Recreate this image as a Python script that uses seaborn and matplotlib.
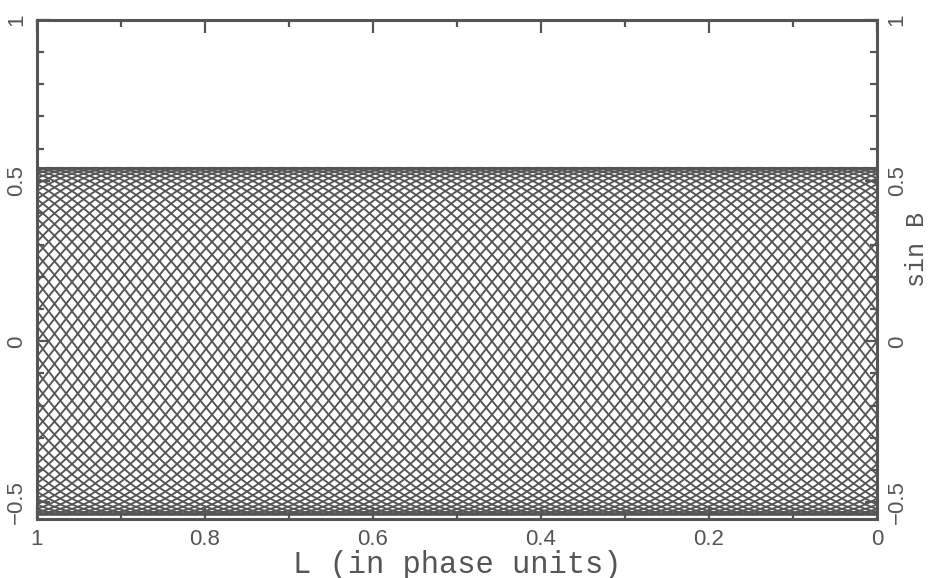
import numpy as np
import pandas as pd
import matplotlib
matplotlib.use("Agg")
import matplotlib.pyplot as plt
import seaborn as sns
from matplotlib.ticker import MultipleLocator

# ---- chart values ----
amplitude = 0.54          # max |sin B| reached by the tracks
n_tracks = 72             # number of phase-shifted tracks in the mesh
cycles_per_phase = 1.0    # oscillations of sin B per unit of L
x_ticks = [1, 0.8, 0.6, 0.4, 0.2, 0]
x_tick_labels = ["1", "0.8", "0.6", "0.4", "0.2", "0"]
y_ticks = [-0.5, 0, 0.5, 1]
y_tick_labels = ["\u22120.5", "0", "0.5", "1"]
x_label = "L (in phase units)"
y_label = "sin B"

ink = "#555555"

L = np.linspace(0, 1, 500)
phases = np.arange(n_tracks) / n_tracks
frames = []
for k, ph in enumerate(phases):
    frames.append(pd.DataFrame({
        "L": L,
        "sinB": amplitude * np.sin(2 * np.pi * (cycles_per_phase * L - ph)),
        "track": k,
    }))
df = pd.concat(frames, ignore_index=True)

sns.set_theme(style="white")
plt.rcParams["font.family"] = ["Liberation Sans", "DejaVu Sans"]

fig = plt.figure(figsize=(9.29, 5.78), dpi=100)
ax = fig.add_axes([37 / 929, 1 - 519 / 578, 840 / 929, 499 / 578])

sns.lineplot(data=df, x="L", y="sinB", units="track", estimator=None,
             color=ink, linewidth=1.35, legend=False, ax=ax, sort=False)

ax.set_xlim(1, 0)
ax.set_ylim(-0.553, 1.0)

for s in ax.spines.values():
    s.set_color(ink)
    s.set_linewidth(2.2)

ax.xaxis.set_minor_locator(MultipleLocator(0.1))
ax.yaxis.set_minor_locator(MultipleLocator(0.1))
ax.set_xticks(x_ticks)
ax.set_xticklabels(x_tick_labels)
ax.set_yticks(y_ticks)
ax.set_yticklabels(y_tick_labels, rotation=90, va="center")

ax.tick_params(which="both", direction="in", top=True, right=True,
               bottom=True, left=True, color=ink, width=1.6,
               labelcolor=ink, labelsize=16, labelright=True)
ax.tick_params(which="major", length=9, pad=7)
ax.tick_params(which="minor", length=5)
for t in ax.yaxis.get_major_ticks():
    t.label1.set_rotation(90)
    t.label1.set_va("center")
    t.label2.set_rotation(90)
    t.label2.set_va("center")

ax.set_xlabel(x_label, family="Liberation Mono", fontsize=22, color=ink,
              labelpad=0)
ax.yaxis.set_label_position("right")
ax.set_ylabel(y_label, family="Liberation Mono", fontsize=18, color=ink,
              rotation=90)
ax.yaxis.label.set_va("center")
ax.yaxis.label.set_ha("center")
ax.yaxis.set_label_coords(1.0 + 40 / 840, 0.54)
ax.grid(False)

fig.savefig("out.png", dpi=100, facecolor="white")
